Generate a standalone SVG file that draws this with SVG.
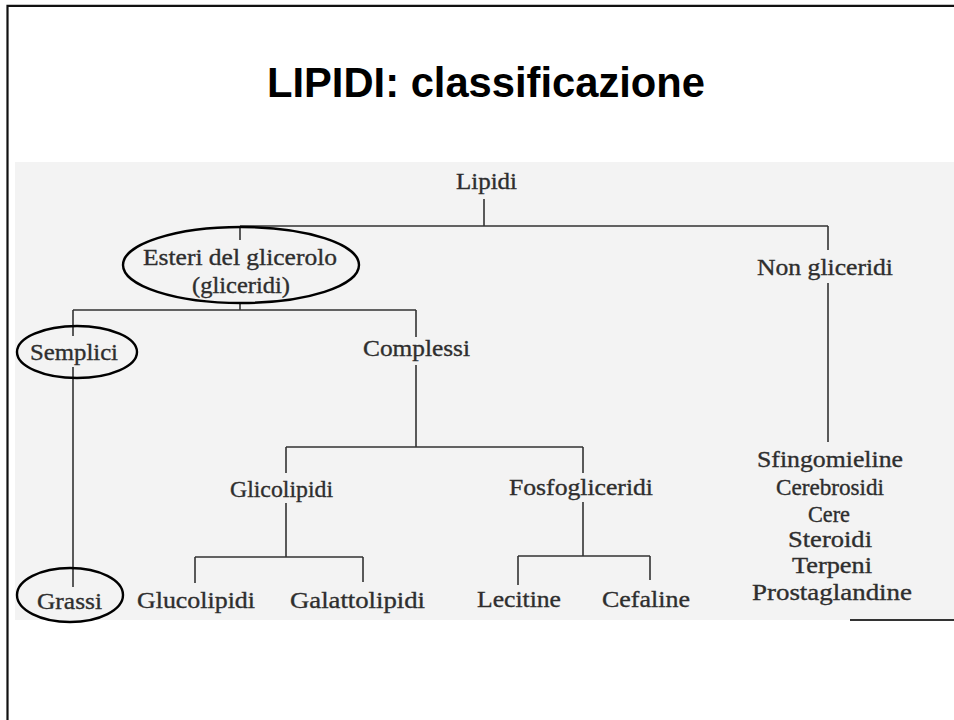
<svg xmlns="http://www.w3.org/2000/svg" width="954" height="720" viewBox="0 0 954 720">
<style>
.t{font-family:"Liberation Serif","Times New Roman",serif;font-size:24px;fill:#2e2e2e;stroke:#2e2e2e;stroke-width:0.35}
.c{stroke:#333;stroke-width:1.6;fill:none}
.o{stroke:#000;stroke-width:2.4;fill:none}
</style>
<rect width="954" height="720" fill="#fff"/>
<path d="M7.5 720 V5.8 H954" fill="none" stroke="#111" stroke-width="2.2"/>
<text x="267" y="97" font-family="'Liberation Sans',Arial,sans-serif" font-weight="bold" font-size="42" textLength="438" lengthAdjust="spacingAndGlyphs" fill="#000">LIPIDI: classificazione</text>
<g id="scan">
<rect x="15" y="162" width="939" height="458" fill="#f3f3f3"/>
<path d="M850 620 H954" stroke="#333" stroke-width="2"/>
</g>
<g id="connectors" class="c">
<path d="M484 199 V226 M240 226 H828 M240 226 V240 M828 226 V250 M828 283 V442"/>
<path d="M240 302 V310 M73 310 H416 M73 310 V336 M73 367 V587 M416 310 V337"/>
<path d="M416 365 V447 M286 447 H583 M286 447 V473 M583 447 V473"/>
<path d="M286 503 V557 M195 557 H363 M195 557 V583 M363 557 V582"/>
<path d="M583 502 V556 M518 556 H650 M518 556 V585 M650 556 V580"/>
</g>
<g id="lipidi"><text class="t" x="456" y="189" textLength="61" lengthAdjust="spacingAndGlyphs">Lipidi</text></g>
<g id="esteri">
<ellipse class="o" cx="241" cy="265" rx="118" ry="38"/>
<text class="t" x="143" y="265" textLength="194" lengthAdjust="spacingAndGlyphs">Esteri del glicerolo</text>
<text class="t" x="192" y="293" textLength="98" lengthAdjust="spacingAndGlyphs">(gliceridi)</text>
</g>
<g id="nongliceridi"><text class="t" x="757" y="275" textLength="136" lengthAdjust="spacingAndGlyphs">Non gliceridi</text></g>
<g id="semplici">
<ellipse class="o" cx="77" cy="352" rx="60" ry="26"/>
<text class="t" x="30" y="360" textLength="88" lengthAdjust="spacingAndGlyphs">Semplici</text>
</g>
<g id="complessi"><text class="t" x="363" y="356" textLength="107" lengthAdjust="spacingAndGlyphs">Complessi</text></g>
<g id="glicolipidi"><text class="t" x="230" y="497" textLength="103" lengthAdjust="spacingAndGlyphs">Glicolipidi</text></g>
<g id="fosfogliceridi"><text class="t" x="509" y="495" textLength="144" lengthAdjust="spacingAndGlyphs">Fosfogliceridi</text></g>
<g id="nongliceridi-list">
<text class="t" x="757" y="467" textLength="146" lengthAdjust="spacingAndGlyphs">Sfingomieline</text>
<text class="t" x="776" y="495" textLength="108" lengthAdjust="spacingAndGlyphs">Cerebrosidi</text>
<text class="t" x="808" y="522" textLength="42" lengthAdjust="spacingAndGlyphs">Cere</text>
<text class="t" x="788" y="547" textLength="84" lengthAdjust="spacingAndGlyphs">Steroidi</text>
<text class="t" x="792" y="573" textLength="80" lengthAdjust="spacingAndGlyphs">Terpeni</text>
<text class="t" x="752" y="600" textLength="160" lengthAdjust="spacingAndGlyphs">Prostaglandine</text>
</g>
<g id="grassi">
<ellipse class="o" cx="70" cy="595" rx="53" ry="27"/>
<text class="t" x="37" y="609" textLength="65" lengthAdjust="spacingAndGlyphs">Grassi</text>
</g>
<g id="glucolipidi"><text class="t" x="137" y="608" textLength="118" lengthAdjust="spacingAndGlyphs">Glucolipidi</text></g>
<g id="galattolipidi"><text class="t" x="290" y="608" textLength="135" lengthAdjust="spacingAndGlyphs">Galattolipidi</text></g>
<g id="lecitine"><text class="t" x="477" y="607" textLength="84" lengthAdjust="spacingAndGlyphs">Lecitine</text></g>
<g id="cefaline"><text class="t" x="602" y="607" textLength="88" lengthAdjust="spacingAndGlyphs">Cefaline</text></g>
</svg>
